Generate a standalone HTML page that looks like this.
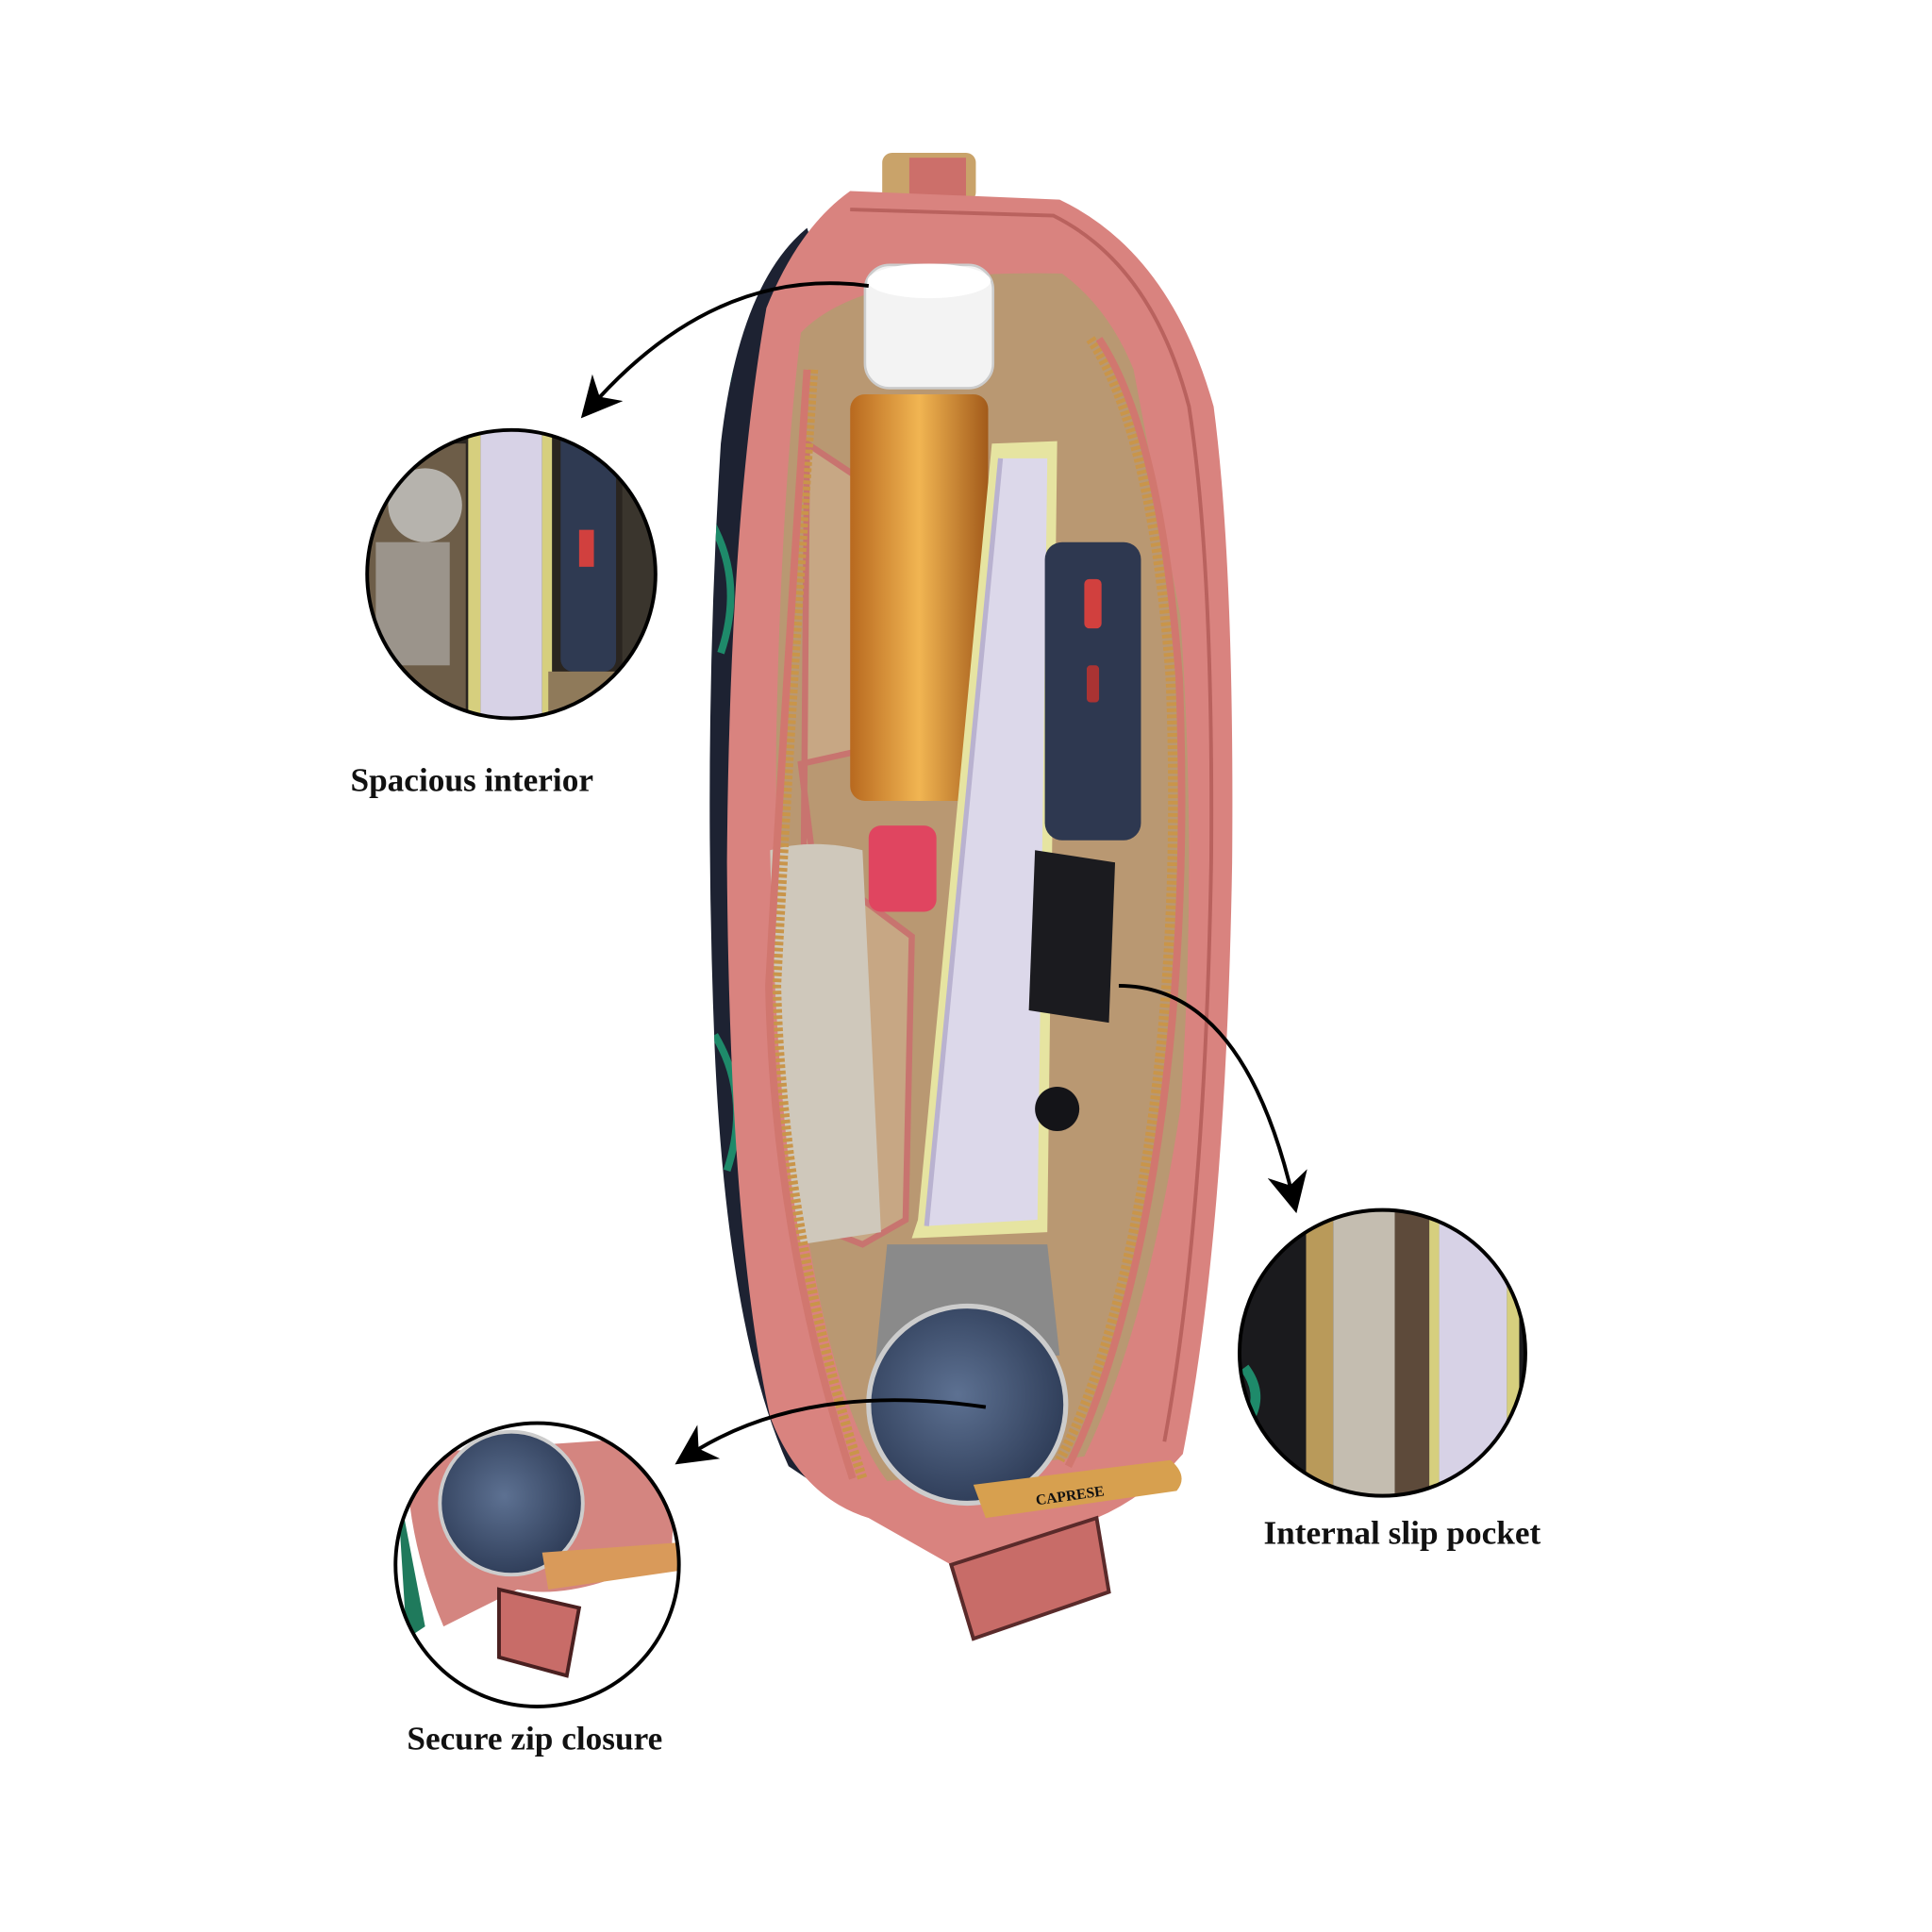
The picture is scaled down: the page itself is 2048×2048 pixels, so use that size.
<!DOCTYPE html>
<html><head><meta charset="utf-8"><style>
html,body{margin:0;padding:0;background:#fff;}
svg{display:block;}
text{font-family:"Liberation Serif",serif;font-weight:bold;fill:#111;}
</style></head><body>
<svg width="2048" height="2048" viewBox="0 0 1568 1568" xmlns="http://www.w3.org/2000/svg">
<defs>
<marker id="ah" viewBox="0 0 10 10" refX="7" refY="5" markerWidth="11" markerHeight="11" orient="auto-start-reverse"><path d="M0,0 L10,5 L0,10 L3,5 z" fill="#000"/></marker>
<clipPath id="c1"><circle cx="415" cy="466" r="117"/></clipPath>
<clipPath id="c2"><circle cx="436" cy="1270" r="115"/></clipPath>
<clipPath id="c3"><circle cx="1122" cy="1098" r="116"/></clipPath>
<clipPath id="navy"><path d="M655 185 Q600 230 585 360 Q570 600 580 850 Q590 1080 640 1190 L700 1230 L660 1200 Q610 1000 610 700 Q612 420 660 200 Z"/></clipPath>
<radialGradient id="tin" cx="0.45" cy="0.45" r="0.6"><stop offset="0" stop-color="#5d7192"/><stop offset="1" stop-color="#2c3a55"/></radialGradient>
<linearGradient id="bottle" x1="0" x2="1"><stop offset="0" stop-color="#b8691f"/><stop offset="0.5" stop-color="#f1b552"/><stop offset="1" stop-color="#a25a1a"/></linearGradient>
</defs>

<rect x="716" y="124" width="76" height="40" rx="8" fill="#c9a36a"/>
<rect x="738" y="128" width="46" height="34" fill="#cc6f6a"/>

<path d="M655 185 Q600 230 585 360 Q570 600 580 850 Q590 1080 640 1190 L700 1230 L660 1200 Q610 1000 610 700 Q612 420 660 200 Z" fill="#1d2232"/>
<g clip-path="url(#navy)" stroke="#1e8a6a" stroke-width="6" fill="none">
<path d="M570 240 q30 30 20 70 M575 420 q30 50 10 110 M580 840 q30 50 10 110 M590 1100 q30 30 30 90"/>
</g>

<path d="M690 155 L860 162 Q950 205 985 330 Q1002 460 1000 700 Q995 1000 960 1180 Q930 1215 890 1232 L900 1292 L792 1330 L772 1270 L705 1232 Q650 1215 625 1150 Q592 1000 590 700 Q592 420 622 250 Q648 185 690 155 Z" fill="#d9837f"/>
<path d="M690 170 L855 175 Q935 215 965 330 Q985 460 983 700 Q978 990 945 1170" stroke="#b9625e" stroke-width="3" fill="none"/>
<path d="M772 1270 L790 1330 L900 1292 L890 1232 Z" fill="#c86c68" stroke="#5a2a2a" stroke-width="3"/>

<path d="M650 270 Q700 218 862 222 Q900 250 920 300 L958 500 Q972 700 958 900 Q930 1080 880 1182 L720 1202 Q680 1150 655 1000 Q628 800 630 600 Q634 400 650 270 Z" fill="#b99872"/>
<path d="M655 360 L745 420 L740 600 L650 620 L660 700 L740 760 L735 990 L700 1010 L650 990 Z" fill="#c7a784" stroke="#c8746f" stroke-width="5"/>

<rect x="690" y="320" width="112" height="330" rx="12" fill="url(#bottle)"/>
<rect x="702" y="215" width="104" height="100" rx="20" fill="#f3f3f3" stroke="#ccc" stroke-width="2"/>
<ellipse cx="754" cy="228" rx="50" ry="14" fill="#fff"/>
<rect x="705" y="670" width="55" height="70" rx="10" fill="#e04560"/>
<path d="M625 690 Q660 680 700 690 L715 1000 L650 1010 Q630 900 625 690Z" fill="#cfc8bb"/>

<path d="M805 360 L858 358 L850 1000 L740 1005 L745 990 Z" fill="#e6e4a1"/>
<path d="M812 372 L850 372 L842 990 L752 995 Z" fill="#dcd8ea"/>
<path d="M812 372 L752 995" stroke="#b9b2d0" stroke-width="4"/>

<rect x="848" y="440" width="78" height="242" rx="14" fill="#2e3850"/>
<rect x="880" y="470" width="14" height="40" rx="4" fill="#d1403e"/>
<rect x="882" y="540" width="10" height="30" rx="3" fill="#aa3333"/>
<path d="M840 690 L905 700 L900 830 L835 820 Z" fill="#1b1b1f"/>
<circle cx="858" cy="900" r="18" fill="#141418"/>

<path d="M660 300 Q640 600 630 800 Q635 1000 700 1200" stroke="#c9954a" stroke-width="8" fill="none" stroke-dasharray="3 2"/>
<path d="M655 300 Q635 600 624 800 Q628 1000 692 1200" stroke="#d1776f" stroke-width="6" fill="none"/>
<path d="M885 275 Q935 350 950 550 Q960 800 920 1000 Q895 1120 860 1185" stroke="#c9954a" stroke-width="8" fill="none" stroke-dasharray="3 2"/>
<path d="M892 275 Q942 350 957 550 Q967 800 927 1000 Q902 1120 867 1190" stroke="#d1776f" stroke-width="6" fill="none"/>

<path d="M720 1010 L850 1010 L860 1100 L710 1110 Z" fill="#8a8a8a"/>
<circle cx="785" cy="1140" r="80" fill="url(#tin)" stroke="#ccc" stroke-width="4"/>
<path d="M790 1205 L950 1185 Q965 1198 955 1210 L800 1232 Z" fill="#d7a04f"/>
<text x="840" y="1216" font-size="12" fill="#6a4a1a" transform="rotate(-8 880 1210)">CAPRESE</text>

<g clip-path="url(#c1)">
<rect x="290" y="340" width="260" height="260" fill="#2a2520"/>
<rect x="298" y="360" width="80" height="220" fill="#6d5d48"/>
<circle cx="345" cy="410" r="30" fill="#b6b3ad"/>
<rect x="305" y="440" width="60" height="100" fill="#9b948b"/>
<rect x="380" y="340" width="10" height="260" fill="#d6cf7e"/>
<rect x="390" y="340" width="50" height="260" fill="#d7d2e6"/>
<rect x="440" y="340" width="8" height="260" fill="#d6cf7e"/>
<rect x="455" y="345" width="45" height="200" rx="10" fill="#2f3a52"/>
<rect x="470" y="430" width="12" height="30" fill="#d1403e"/>
<rect x="505" y="340" width="40" height="260" fill="#3a352d"/>
<rect x="445" y="545" width="60" height="50" fill="#8f7a5a"/>
</g>
<circle cx="415" cy="466" r="117" fill="none" stroke="#000" stroke-width="3"/>

<g clip-path="url(#c2)">
<rect x="320" y="1155" width="232" height="232" fill="#ffffff"/>
<path d="M330 1180 L550 1165 L545 1260 Q470 1300 420 1290 L360 1320 Q330 1250 330 1180Z" fill="#d48580"/>
<path d="M322 1200 L345 1320 L330 1330 Z" fill="#1f7a5c"/>
<circle cx="415" cy="1220" r="58" fill="url(#tin)" stroke="#ccc" stroke-width="3"/>
<path d="M440 1260 L550 1252 L550 1275 L445 1290 Z" fill="#d99a5a"/>
<path d="M405 1290 L470 1305 L460 1360 L405 1345 Z" fill="#c86c68" stroke="#4a2020" stroke-width="3"/>
</g>
<circle cx="436" cy="1270" r="115" fill="none" stroke="#000" stroke-width="3"/>

<g clip-path="url(#c3)">
<rect x="1000" y="975" width="245" height="245" fill="#1a1a1d"/>
<rect x="1060" y="975" width="22" height="245" fill="#b99a5a"/>
<rect x="1082" y="975" width="50" height="245" fill="#c4bdb0"/>
<rect x="1132" y="975" width="28" height="245" fill="#5d4a3a"/>
<rect x="1160" y="975" width="8" height="245" fill="#d6cf7e"/>
<rect x="1168" y="975" width="55" height="245" fill="#d7d2e6"/>
<rect x="1223" y="975" width="10" height="245" fill="#d6cf7e"/>
<path d="M1010 1110 q15 20 5 40" stroke="#1e8a6a" stroke-width="8" fill="none"/>
</g>
<circle cx="1122" cy="1098" r="116" fill="none" stroke="#000" stroke-width="3"/>

<path d="M705 232 Q580 215 478 332" stroke="#000" stroke-width="3" fill="none" marker-end="url(#ah)"/>
<path d="M908 800 Q1010 800 1050 975" stroke="#000" stroke-width="3" fill="none" marker-end="url(#ah)"/>
<path d="M800 1142 Q650 1120 556 1183" stroke="#000" stroke-width="3" fill="none" marker-end="url(#ah)"/>

<text x="383" y="642" font-size="27" text-anchor="middle">Spacious interior</text>
<text x="1138" y="1253" font-size="27" text-anchor="middle">Internal slip pocket</text>
<text x="434" y="1420" font-size="27" text-anchor="middle">Secure zip closure</text>
</svg>
</body></html>
